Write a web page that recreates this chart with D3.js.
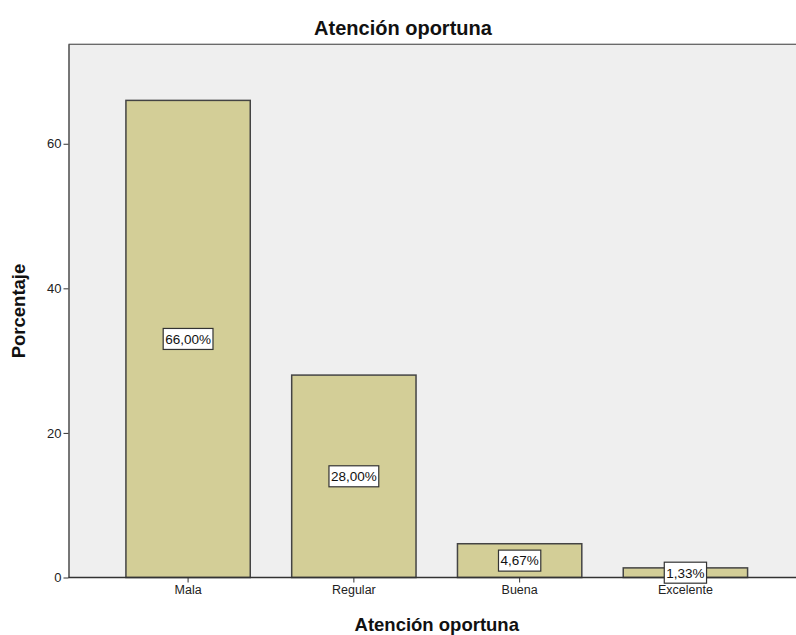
<!DOCTYPE html>
<html><head><meta charset="utf-8">
<script src="https://cdn.jsdelivr.net/npm/d3@7"></script>
<style>body{margin:0;background:#fff}svg{display:block}text{font-family:"Liberation Sans",Arial,sans-serif}</style>
</head><body>
<script>
const categories = ["Mala","Regular","Buena","Excelente"];
const values = [66.00, 28.00, 4.67, 1.33];
const labels = ["66,00%","28,00%","4,67%","1,33%"];
const yTicks = [0,20,40,60];
const yMax = 73.8;

(function(){
const W = 796, H = 635;
const svg = d3.select("body").append("svg").attr("width",W).attr("height",H);
const pL = 68.5, pT = 44, pB = 577.5, pR = 805;

const x = d3.scaleBand().domain(categories).range([pL+36.7, pR-36.7]).paddingInner(0.25).paddingOuter(0.125);
const y = d3.scaleLinear().domain([0,yMax]).range([pB, pT]);

svg.append("rect").attr("x",pL).attr("y",pT).attr("width",pR-pL).attr("height",pB-pT).attr("fill","#efefef");
svg.append("line").attr("x1",pL).attr("x2",pR).attr("y1",pT-0.5).attr("y2",pT-0.5).attr("stroke","#c8c8c8").attr("stroke-width",1);
svg.append("line").attr("x1",pL).attr("x2",pR).attr("y1",pT+0.5).attr("y2",pT+0.5).attr("stroke","#6a6a6a").attr("stroke-width",1);

svg.selectAll("rect.bar").data(values).join("rect").attr("class","bar")
  .attr("x",(d,i)=>x(categories[i])).attr("width",x.bandwidth())
  .attr("y",d=>y(d)).attr("height",d=>pB-y(d))
  .attr("fill","#d3ce97").attr("stroke","#444").attr("stroke-width",1.5);

const ya = svg.append("g").attr("transform",`translate(${pL},0)`)
  .call(d3.axisLeft(y).tickValues(yTicks).tickSize(5).tickSizeOuter(0).tickPadding(2).tickFormat(d3.format("d")));
ya.select(".domain").attr("stroke","#333").attr("stroke-width",1.3);
ya.selectAll(".tick line").attr("stroke","#333");
ya.selectAll(".tick text").attr("font-size",13).attr("fill","#222").attr("font-family","Liberation Sans, Arial");

const xa = svg.append("g").attr("transform",`translate(0,${pB})`)
  .call(d3.axisBottom(x).tickSize(5).tickPadding(3).tickSizeOuter(0));
xa.select(".domain").attr("d",`M${pL},0H${pR}`).attr("stroke","#333").attr("stroke-width",1.3);
xa.selectAll(".tick line").attr("stroke","#333");
xa.selectAll(".tick text").attr("font-size",12.5).attr("fill","#222").attr("font-family","Liberation Sans, Arial");

const lg = svg.append("g");
values.forEach((v,i)=>{
  const cx = x(categories[i]) + x.bandwidth()/2;
  const cy = (y(v)+pB)/2;
  const t = lg.append("text").attr("x",cx).attr("y",cy).attr("text-anchor","middle").attr("dy","0.36em")
    .attr("font-size",13.5).attr("fill","#111").text(labels[i]);
  const bb = t.node().getBBox();
  lg.insert("rect","text").attr("x",bb.x-2).attr("y",cy-10.5).attr("width",bb.width+4).attr("height",21)
    .attr("fill","#fff").attr("stroke","#333").attr("stroke-width",1.2);
});

svg.append("text").attr("x",403).attr("y",35).attr("text-anchor","middle").attr("font-size",20).attr("font-weight","bold").attr("fill","#111").text("Atención oportuna");
svg.append("text").attr("x",(pL+pR)/2).attr("y",631).attr("text-anchor","middle").attr("font-size",18.5).attr("font-weight","bold").attr("fill","#111").text("Atención oportuna");
svg.append("text").attr("transform","translate(25,311) rotate(-90)").attr("text-anchor","middle").attr("font-size",18.5).attr("font-weight","bold").attr("fill","#111").text("Porcentaje");
})();
</script>
</body></html>
